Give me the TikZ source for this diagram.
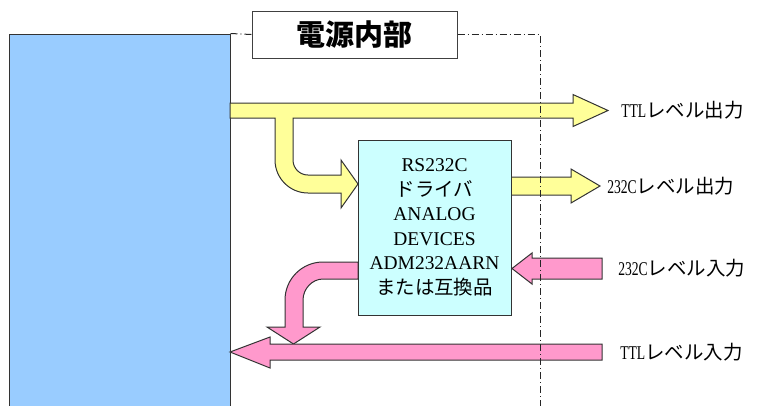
\documentclass[tikz,border=0pt]{standalone}
\usepackage{fontspec}
\setmainfont{Liberation Serif}
\newfontfamily\jp{Noto Sans CJK JP}
\newfontfamily\half{Liberation Serif}[FakeStretch=0.7]
\usetikzlibrary{positioning}
\definecolor{hostblue}{HTML}{99CCFF}
\definecolor{drvcyan}{HTML}{CCFFFF}
\definecolor{sigyellow}{HTML}{FFFF99}
\definecolor{sigpink}{HTML}{FF99CC}

\begin{document}
\begin{tikzpicture}[x=0.75pt,y=-0.75pt]
 \tikzset{outline/.style={draw=black!80,line width=0.75pt},
  yellowarrow/.style={outline,fill=sigyellow},
  pinkarrow/.style={outline,fill=sigpink},
  boundary/.style={black!85,line width=0.75pt,dash pattern=on 5.25pt off 2.25pt on 0.75pt off 2.25pt},
  levellabel/.style={anchor=west,inner sep=0pt,font=\fontsize{14.6}{18}\selectfont}}
 \useasboundingbox (0,0) rectangle (760,405);

 \node[outline,fill=hostblue,minimum width=165.75pt,minimum height=282pt,inner sep=0pt] (host) at (119.5,222) {};
 \node[draw=black!75,line width=0.75pt,fill=white,minimum width=153.75pt,minimum height=35.25pt,inner sep=0pt,
   font=\fontsize{21.75}{24}\selectfont\jp\bfseries] (title) at (354.5,34.5) {電源内部};
 \coordinate (corner) at (540,34.5);
 \coordinate (bottom) at (540,410);

 % TTL out with branch to the driver
 \draw[yellowarrow] (230,103) -- (573,103) -- (573,94.5) -- (608,110.5) -- (573,126.5) -- (573,118)
   -- (293,118) -- (293,160) .. controls (293,168.3) and (299.7,175) .. (308,175)
   -- (341,175) -- (341,160) -- (358,184) -- (341,208) -- (341,193) -- (308,193)
   .. controls (289.8,193) and (275,178.2) .. (275,160) -- (275,118) -- (230,118) -- cycle;
 % 232C out
 \draw[yellowarrow] (511,177) -- (571,177) -- (571,169) -- (600,186) -- (571,203) -- (571,195) -- (511,195) -- cycle;
 % 232C in
 \draw[pinkarrow] (602,258) -- (532,258) -- (532,253) -- (512,268.5) -- (532,284) -- (532,279) -- (602,279) -- cycle;
 % driver to TTL in
 \draw[pinkarrow] (358,262) -- (323,262) .. controls (302,262) and (285,279) .. (285,300) -- (285,327)
   -- (267,327) -- (293.5,344) -- (320,327) -- (303,327) -- (303,300)
   .. controls (303,289) and (312,279) .. (323,279) -- (358,279) -- cycle;
 % TTL in
 \draw[pinkarrow] (602,344) -- (270,344) -- (270,337) -- (230,352) -- (270,368) -- (270,360) -- (602,360) -- cycle;

 \node[outline,fill=drvcyan,minimum width=114.75pt,minimum height=131.25pt,inner sep=0pt,align=center,
   font=\fontsize{14.6}{18.4}\selectfont] (drv) at (434.5,227.5)
   {RS232C\\{\jp ドライバ}\\ANALOG\\DEVICES\\ADM232AARN\\{\jp または互換品}};

 \draw[boundary] (host.north east) -- (title.west);
 \draw[boundary] (title.east) -- (corner) -- (bottom);

 \node[levellabel] (ttlout) at (621,110.5) {{\half TTL}{\jp レベル出力}};
 \node[levellabel] (rsout) at (607,186) {{\half 232C}{\jp レベル出力}};
 \node[levellabel] (rsin) at (618,268.5) {{\half 232C}{\jp レベル入力}};
 \node[levellabel] (ttlin) at (620,352) {{\half TTL}{\jp レベル入力}};
\end{tikzpicture}
\end{document}
